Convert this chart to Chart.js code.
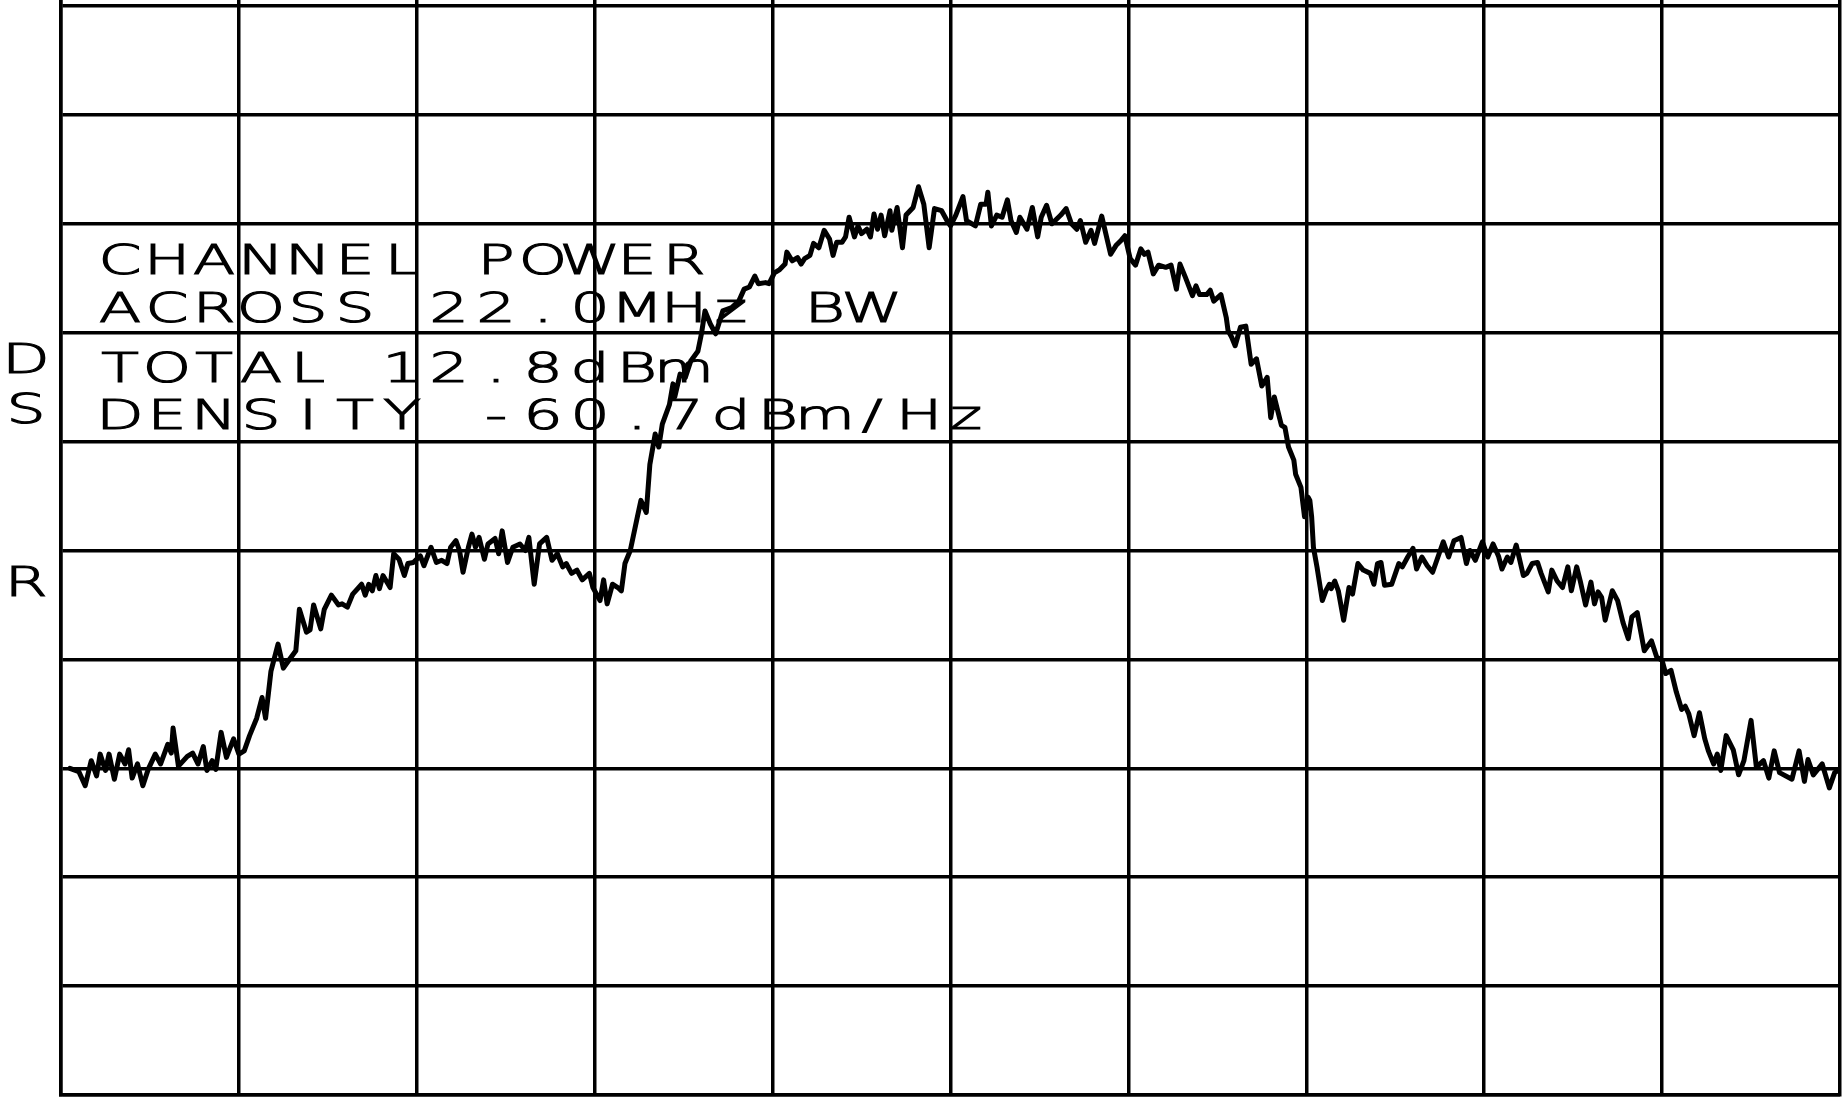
<!DOCTYPE html>
<html>
<head>
<meta charset="utf-8">
<script src="https://cdn.jsdelivr.net/npm/chart.js@4.4.1/dist/chart.umd.min.js"></script>
<style>
  html, body { margin: 0; padding: 0; background: #fff; }
  #wrap { width: 1844px; height: 1097px; position: relative; }
</style>
</head>
<body>
<div id="wrap"><canvas id="spectrum"></canvas></div>
<script>
// trace: [frequency (div), level (div above bottom)]
const leftFloor = [
  [0.05,3.0],[0.1,2.97],[0.136,2.84],[0.17,3.07],[0.2,2.93],[0.22,3.13],[0.25,2.98],[0.27,3.13],
  [0.3,2.9],[0.33,3.13],[0.36,3.04],[0.38,3.17],[0.4,2.91],[0.43,3.04],[0.46,2.84],[0.49,2.99],
  [0.53,3.13],[0.56,3.04],[0.6,3.22],[0.62,3.14],[0.63,3.37],[0.66,3.02],[0.71,3.11],[0.74,3.14],
  [0.77,3.04],[0.8,3.2],[0.82,2.98],[0.85,3.07],[0.87,2.99],[0.9,3.33],[0.93,3.1],[0.97,3.27],
  [1.0,3.13],[1.03,3.16],[1.06,3.3],[1.1,3.46]
];
const leftLobe = [
  [1.13,3.65],[1.15,3.46],[1.18,3.89],[1.22,4.14],[1.25,3.92],[1.28,3.99],[1.32,4.08],[1.34,4.46],
  [1.38,4.25],[1.4,4.27],[1.42,4.5],[1.46,4.28],[1.48,4.46],[1.52,4.59],[1.56,4.5],[1.58,4.51],
  [1.61,4.48],[1.64,4.6],[1.69,4.69],[1.71,4.59],[1.73,4.69],[1.75,4.63],[1.77,4.77],[1.79,4.65],
  [1.81,4.77],[1.85,4.66],[1.87,4.97],[1.9,4.92],[1.93,4.77],[1.95,4.88],[1.98,4.89],[2.0,4.92],
  [2.02,4.95],[2.04,4.86],[2.08,5.03],[2.11,4.89],[2.14,4.91],[2.17,4.88],[2.19,5.03],[2.22,5.09],
  [2.24,5.0],[2.26,4.8],[2.29,5.03],[2.31,5.15],[2.33,5.03],[2.35,5.12],[2.38,4.92],[2.4,5.06],
  [2.44,5.11],[2.46,4.97],[2.48,5.18],[2.51,4.89],[2.54,5.03],[2.58,5.06],[2.61,5.0],[2.63,5.12],
  [2.66,4.69],[2.69,5.06],[2.73,5.12],[2.76,4.91],[2.79,4.97],[2.82,4.85],[2.84,4.88],[2.87,4.79],
  [2.9,4.82],[2.93,4.73],[2.97,4.79],[2.99,4.66],[3.03,4.54],[3.05,4.73],[3.07,4.51],[3.1,4.69],
  [3.13,4.66],[3.15,4.63],[3.17,4.88],[3.2,5.0]
];
const mainLobe = [
  [3.24,5.31],[3.26,5.46],[3.29,5.35],[3.31,5.79],[3.34,6.07],[3.36,5.95],[3.38,6.16],[3.4,6.25],
  [3.42,6.34],[3.44,6.53],[3.45,6.41],[3.48,6.62],[3.51,6.59],[3.54,6.74],[3.58,6.83],[3.6,6.99],
  [3.62,7.2],[3.65,7.08],[3.68,6.99],[3.72,7.2],[3.77,7.23],[3.81,7.29],[3.84,7.4],[3.87,7.42],
  [3.9,7.52],[3.92,7.45],[3.96,7.46],[3.98,7.45],[4.01,7.55],[4.04,7.58],[4.07,7.63],[4.08,7.74],
  [4.11,7.66],[4.14,7.69],[4.16,7.63],[4.18,7.68],[4.21,7.71],[4.23,7.82],[4.26,7.78],[4.29,7.94],
  [4.32,7.86],[4.34,7.71],[4.36,7.83],[4.39,7.83],[4.41,7.88],[4.43,8.06],[4.46,7.88],[4.48,7.98],
  [4.5,7.91],[4.53,7.95],[4.55,7.88],[4.57,8.09],[4.59,7.95],[4.61,8.08],[4.63,7.89],[4.66,8.12],
  [4.67,7.94],[4.7,8.15],[4.73,7.78],[4.75,8.08],[4.79,8.15],[4.82,8.34],[4.85,8.18],[4.88,7.78],
  [4.91,8.14],[4.95,8.12],[4.98,8.03],[5.0,7.98],[5.03,8.08],[5.07,8.25],[5.09,8.03],[5.14,7.98],
  [5.17,8.18],[5.2,8.18],[5.21,8.29],[5.23,7.98],[5.26,8.08],[5.29,8.06],[5.32,8.22],[5.34,8.03],
  [5.37,7.92],[5.39,8.06],[5.43,7.95],[5.46,8.15],[5.49,7.88],[5.51,8.06],[5.54,8.17],[5.57,8.0],
  [5.62,8.08],[5.65,8.14],[5.68,8.0],[5.71,7.95],[5.73,8.03],[5.76,7.83],[5.79,7.94],[5.81,7.82],
  [5.85,8.07],[5.9,7.72],[5.93,7.8],[5.96,7.85],[5.98,7.89],[6.01,7.68],[6.04,7.62],[6.07,7.77],
  [6.09,7.72],[6.11,7.74],[6.14,7.54],[6.17,7.62],[6.21,7.6],[6.24,7.62],[6.27,7.4],[6.29,7.63],
  [6.32,7.51],[6.36,7.34],[6.38,7.43],[6.4,7.35],[6.44,7.35],[6.46,7.39],[6.48,7.29],[6.52,7.35],
  [6.55,7.14],[6.56,7.02],[6.58,6.96],[6.6,6.88],[6.63,7.05],[6.66,7.06],[6.69,6.71],[6.72,6.76],
  [6.75,6.51],[6.78,6.59],[6.8,6.22],[6.82,6.41],[6.84,6.28],[6.86,6.15],[6.88,6.13],[6.9,5.95],
  [6.93,5.83],[6.94,5.7],[6.97,5.58],[6.99,5.31],[7.01,5.49],[7.02,5.46],[7.03,5.31],[7.04,5.03],
  [7.06,4.85]
];
const rightLobe = [
  [7.09,4.54],[7.11,4.63],[7.13,4.69],[7.14,4.65],[7.16,4.72],[7.18,4.63],[7.21,4.36],[7.24,4.66],
  [7.26,4.6],[7.29,4.88],[7.32,4.82],[7.36,4.79],[7.38,4.69],[7.4,4.88],[7.42,4.89],[7.44,4.68],
  [7.48,4.69],[7.52,4.88],[7.54,4.85],[7.57,4.94],[7.6,5.02],[7.62,4.83],[7.65,4.94],[7.68,4.86],
  [7.71,4.8],[7.74,4.94],[7.77,5.08],[7.8,4.94],[7.83,5.09],[7.87,5.12],[7.9,4.88],[7.92,5.0],
  [7.95,4.91],[7.99,5.08],[8.02,4.94],[8.05,5.06],[8.08,4.95],[8.1,4.83],[8.13,4.94],[8.15,4.89],
  [8.18,5.05],[8.22,4.77],[8.24,4.79],[8.27,4.88],[8.3,4.89],[8.32,4.79],[8.36,4.62],[8.38,4.82],
  [8.41,4.72],[8.44,4.66],[8.47,4.85],[8.49,4.63],[8.52,4.85],[8.54,4.72],[8.57,4.5],[8.6,4.71],
  [8.62,4.51],[8.64,4.62],[8.66,4.57],[8.68,4.36],[8.72,4.63],[8.75,4.54],[8.78,4.34],[8.81,4.19],
  [8.83,4.39],[8.86,4.43],[8.9,4.08],[8.94,4.17],[8.97,4.02],[9.0,3.99]
];
const rightFloor = [
  [9.02,3.87],[9.05,3.9],[9.08,3.7],[9.11,3.54],[9.13,3.57],[9.15,3.5],[9.18,3.3],[9.21,3.51],
  [9.24,3.27],[9.26,3.16],[9.29,3.04],[9.31,3.13],[9.33,2.98],[9.36,3.3],[9.4,3.17],[9.43,2.94],
  [9.46,3.07],[9.5,3.44],[9.53,3.01],[9.57,3.07],[9.6,2.91],[9.63,3.16],[9.66,2.96],[9.73,2.9],
  [9.77,3.16],[9.8,2.88],[9.82,3.08],[9.85,2.94],[9.9,3.04],[9.94,2.82],[9.97,2.96],[10.0,2.99]
];

const annotationLines = ['CHANNEL POWER', 'ACROSS 22.0MHz BW', 'TOTAL 12.8dBm', 'DENSITY -60.7dBm/Hz'];
const sideLabels = ['D', 'S', 'R'];

const trace = [...leftFloor, ...leftLobe, ...mainLobe, ...rightLobe, ...rightFloor]
  .map(p => ({ x: p[0], y: p[1] }));

// plotter style lettering, fixed pitch
function plotText(ctx, str, x0, baseline, pitch) {
  ctx.save();
  ctx.font = '200 41px "DejaVu Sans"';
  ctx.fillStyle = '#000';
  ctx.strokeStyle = '#000';
  ctx.lineWidth = 1.2;
  ctx.textAlign = 'center';
  ctx.textBaseline = 'alphabetic';
  for (let i = 0; i < str.length; i++) {
    if (str[i] === ' ') continue;
    ctx.save();
    ctx.translate(x0 + i * pitch + 16, baseline);
    ctx.scale(1.5, 1);
    ctx.fillText(str[i], 0, 0);
    ctx.strokeText(str[i], 0, 0);
    ctx.restore();
  }
  ctx.restore();
}

const labelsPlugin = {
  id: 'plotterLabels',
  afterDraw(chart) {
    const ctx = chart.ctx;
    const rows = [274, 322, 382, 429];
    annotationLines.forEach((s, i) => plotText(ctx, s, 104, rows[i], 47));
    const side = [373, 423, 596];
    sideLabels.forEach((s, i) => plotText(ctx, s, 10, side[i], 47));
  }
};

const bgPlugin = {
  id: 'whiteBg',
  beforeDraw(chart) {
    const ctx = chart.ctx;
    ctx.save();
    ctx.fillStyle = '#fff';
    ctx.fillRect(0, 0, chart.width, chart.height);
    ctx.restore();
  }
};

new Chart(document.getElementById('spectrum'), {
  type: 'line',
  data: {
    datasets: [{
      data: trace,
      borderColor: '#000',
      borderWidth: 5,
      pointRadius: 0,
      tension: 0,
      borderJoinStyle: 'round',
      borderCapStyle: 'round',
      fill: false
    }]
  },
  options: {
    responsive: true,
    maintainAspectRatio: false,
    devicePixelRatio: 1,
    animation: false,
    layout: { padding: { left: 61, top: 0, right: 4, bottom: 2 } },
    plugins: { legend: { display: false }, tooltip: { enabled: false } },
    scales: {
      x: {
        type: 'linear',
        min: 0, max: 10,
        ticks: { display: false, stepSize: 1 },
        grid: { color: '#000', lineWidth: 3.5, drawTicks: false },
        border: { color: '#000', width: 3.5 }
      },
      y: {
        type: 'linear',
        min: 0, max: 10.055,
        ticks: { display: false, stepSize: 1, includeBounds: false },
        grid: { color: '#000', lineWidth: 3.5, drawTicks: false },
        border: { color: '#000', width: 3.5 }
      }
    }
  },
  plugins: [bgPlugin, labelsPlugin]
});
</script>
</body>
</html>
